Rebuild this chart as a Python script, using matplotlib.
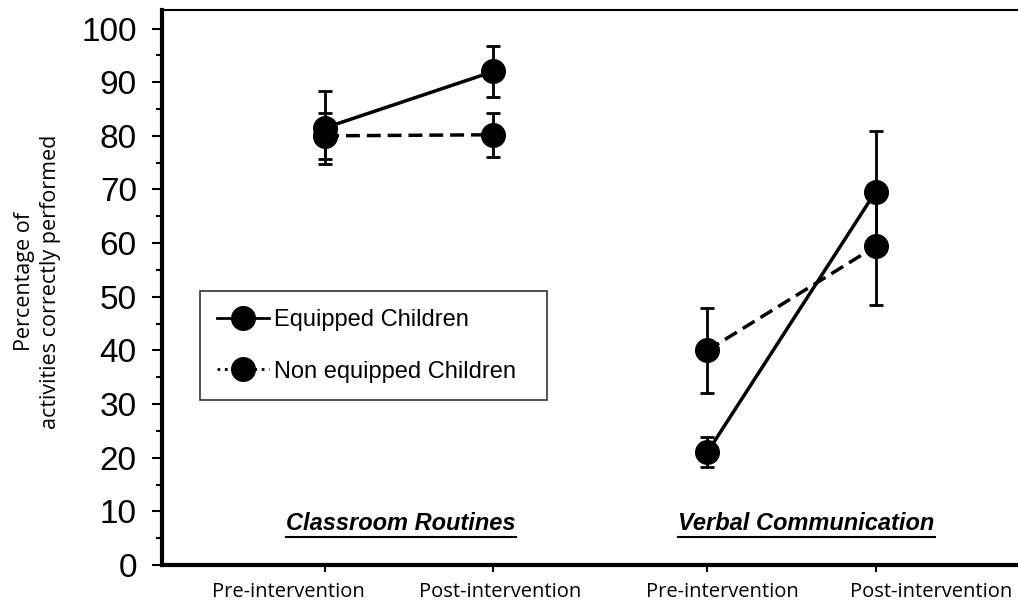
import matplotlib
matplotlib.use("Agg")
import matplotlib.pyplot as plt
from matplotlib.lines import Line2D

# x positions of the four measurement points (two per domain)
x_class = [1.0, 2.0]
x_verbal = [3.27, 4.27]

# Classroom Routines
eq_class = [81.5, 92.0]
eq_class_err = [6.8, 4.8]
neq_class = [80.0, 80.2]
neq_class_err = [4.3, 4.1]

# Verbal Communication
eq_verbal = [21.0, 69.6]
eq_verbal_err = [2.8, 11.3]
neq_verbal = [40.0, 59.4]
neq_verbal_err = [7.9, 11.0]

tick_labels = ["Pre-intervention", "Post-intervention",
               "Pre-intervention", "Post-intervention"]
label_pos = [0.78, 2.04, 3.36, 4.60]
domains = ["Classroom Routines", "Verbal Communication"]
domain_pos = [1.45, 3.86]

plt.rcParams['font.family'] = ['Liberation Sans', 'DejaVu Sans']

fig = plt.figure(figsize=(10.18, 6.05), dpi=100)
ax = fig.add_axes([0.159, 0.066, 0.845, 0.917])

ms = 17
for xs, eq, eqe, ne, nee in [(x_class, eq_class, eq_class_err, neq_class, neq_class_err),
                             (x_verbal, eq_verbal, eq_verbal_err, neq_verbal, neq_verbal_err)]:
    ax.errorbar(xs, ne, yerr=nee, color='black', ls=(0, (4, 2)), lw=2.5,
                marker='o', ms=ms, capsize=5, capthick=2, elinewidth=2)
    ax.errorbar(xs, eq, yerr=eqe, color='black', ls='-', lw=2.5,
                marker='o', ms=ms, capsize=5, capthick=2, elinewidth=2)

ax.set_xlim(0.03, 5.14)
ax.set_ylim(0, 103.4)

ax.set_yticks(range(0, 101, 10))
ax.set_yticks(range(5, 100, 10), minor=True)
ax.tick_params(axis='y', which='major', labelsize=24, length=7, width=1.5, pad=11)
ax.tick_params(axis='y', which='minor', length=4, width=1.5)

ax.set_xticks(x_class + x_verbal)
ax.set_xticklabels([])
ax.tick_params(axis='x', which='major', length=5, width=1.5)
ax.set_xticks(label_pos, tick_labels, minor=True)
ax.tick_params(axis='x', which='minor', length=0, pad=12)
for lab in ax.get_xticklabels(minor=True):
    lab.set_family(['Open Sans', 'DejaVu Sans'])
    lab.set_fontsize(14.5)

ax.spines['left'].set_linewidth(3)
ax.spines['bottom'].set_linewidth(3)
ax.spines['top'].set_linewidth(1.5)
ax.spines['right'].set_visible(False)

fig.text(0.037, 0.535, "Percentage of\nactivities correctly performed",
         rotation=90, ha='center', va='center', fontsize=15.5, linespacing=1.3,
         family=['Open Sans', 'DejaVu Sans'])

handles = [
    Line2D([], [], color='black', ls='-', lw=2, marker='o', ms=17),
    Line2D([], [], color='black', ls=':', lw=2, marker='o', ms=17),
]
leg = ax.legend(handles, ["Equipped Children", "Non equipped Children"],
                loc='center left', bbox_to_anchor=(0.044, 0.29, 0.404, 0.21),
                mode='expand', borderaxespad=0, fontsize=17, frameon=True,
                fancybox=False, edgecolor='black', handlelength=2.2,
                handletextpad=0.2, labelspacing=1.25, borderpad=0.75)
leg.get_frame().set_linewidth(1.2)

texts = []
for name, xp in zip(domains, domain_pos):
    t = ax.text(xp, 7.8, name, ha='center', va='center', fontsize=17,
                fontweight='bold', style='italic',
                family=['Liberation Sans Narrow', 'Liberation Sans'])
    texts.append(t)

fig.canvas.draw()
for t in texts:
    bb = t.get_window_extent()
    y = bb.y0 - 2
    fig.add_artist(Line2D([bb.x0 / fig.bbox.width, bb.x1 / fig.bbox.width],
                          [y / fig.bbox.height, y / fig.bbox.height],
                          color='black', lw=1.5))

fig.savefig("out.png", dpi=100)
